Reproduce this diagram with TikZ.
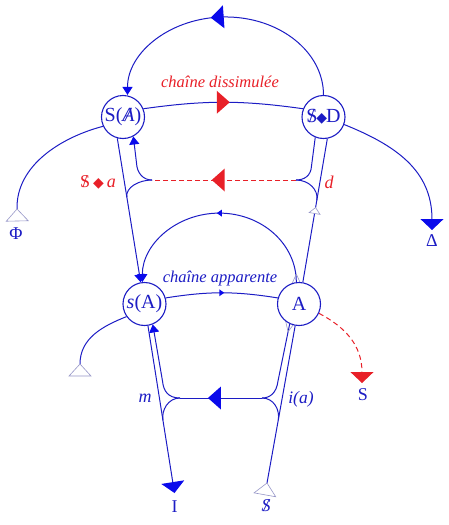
\documentclass[tikz,border=0pt]{standalone}
\usepackage{fontspec}
\setmainfont{Liberation Serif}
\newfontfamily\dejavu{DejaVu Sans}
\usetikzlibrary{arrows.meta,decorations.markings,calc}
\definecolor{lb}{RGB}{28,28,196}
\definecolor{tb}{RGB}{10,10,235}
\definecolor{rd}{RGB}{232,32,40}
\definecolor{gr}{RGB}{150,150,200}
\pgfdeclarelayer{bg}
\pgfsetlayers{bg,main}
\newcommand\barS{\ooalign{S\cr\hidewidth/\hidewidth}}
\newcommand\barA{\ooalign{\textit{A}\cr\hidewidth\textit{/}\hidewidth}}
\newcommand\dia{{\dejavu\fontsize{14}{14}\selectfont ◆}}
\begin{document}
\begin{tikzpicture}[x=1pt,y=-1pt,
  ln/.style={draw=lb, line width=1pt},
  circ/.style={circle, draw=lb, fill=white, line width=1.1pt, minimum size=43pt, inner sep=0pt, text=lb, font=\fontsize{20}{22}\selectfont},
  lab/.style={text=lb, font=\fontsize{18}{20}\selectfont, inner sep=0pt},
  ital/.style={font=\fontsize{16.5}{18}\selectfont\itshape, inner sep=0pt},
  endtri/.style={-{Triangle[width=23pt,length=11pt,color=#1,fill=#1]}},
  smalltip/.style={-{Triangle[width=10pt,length=8pt,color=tb,fill=tb]}},
  bigmark/.style 2 args={postaction={decorate,decoration={markings,mark=at position #1 with {\fill[#2] (6.5pt,0pt) -- (-6.5pt,11.5pt) -- (-6.5pt,-11.5pt) -- cycle;}}}},
  tinymark/.style={postaction={decorate,decoration={markings,mark=at position #1 with {\fill[tb] (2.5pt,0pt) -- (-2.5pt,3.5pt) -- (-2.5pt,-3.5pt) -- cycle;}}}},
  openstart/.style={postaction={decorate,decoration={markings,mark=at position 0 with {\draw[gr,fill=white,line width=0.6pt,solid] (0pt,0pt) -- (-12pt,11pt) -- (-12pt,-11pt) -- cycle;}}}},
  openA/.style={postaction={decorate,decoration={markings,mark=at position 0 with {\draw[gr,line width=0.6pt,solid] (8pt,0pt) -- (-3pt,5pt) -- (-3pt,-5pt) -- cycle;}}}},
  openmid/.style={postaction={decorate,decoration={markings,mark=at position #1 with {\draw[gr,fill=white,line width=0.6pt,solid] (3pt,0pt) -- (-3pt,5.5pt) -- (-3pt,-5.5pt) -- cycle;}}}},
]
\useasboundingbox (0,0) rectangle (449,525);

% circles
\node[circ] (SA) at (123,117) {S(\barA)};
\node[circ] (SD) at (323.5,117) {\barS\kern-0.05em\dia\kern-0.05em D};
\node[circ] (sA) at (144.5,304) {\textit{s}(A)};
\node[circ] (A) at (299,304) {A};

% end points and junctions
\coordinate (phit) at (17,209);
\coordinate (deltat) at (432,230);
\coordinate (redt) at (362,383);
\coordinate (sAt) at (80,364);
\coordinate (It) at (174.5,493);
\coordinate (St) at (267,483);
\coordinate (jTR) at (296,180);
\coordinate (jTL) at (152,180);
\coordinate (jBR) at (262,398);
\coordinate (jBL) at (180,398);
\coordinate (mTL) at ($(SA.-105)!0.41!(sA.100)$);
\coordinate (mTR) at ($(A.80)!0.573!(SD.-80)$);
\coordinate (mBL) at ($(sA.-81)!0.565!(It)$);
\coordinate (mBR) at ($(St)!0.4!(A.-100)$);

% labels
\node[lab] (Phi) at (16,234) {Φ};
\node[lab] (Delta) at (432,241) {Δ};
\node[lab] (I) at (174.5,507) {I};
\node[lab] (Sb) at (266,506) {\textit{\barS}};
\node[lab] (Sr) at (363,395) {S};
\node[ital, text=rd] (cd) at (220,82) {chaîne dissimulée};
\node[ital, text=lb] (ca) at (220,279) {chaîne apparente};
\node[inner sep=0pt, text=rd, font=\fontsize{18}{20}\selectfont] (sa) at (98,182) {\barS\,\dia\,\textit{a}};
\node[ital, text=rd, font=\fontsize{18}{20}\selectfont\itshape] (d) at (329,182) {d};
\node[ital, text=lb, font=\fontsize{18}{20}\selectfont\itshape] (m) at (145,398) {m};
\node[ital, text=lb, font=\fontsize{17.5}{20}\selectfont\itshape] (ia) at (301,399) {i(a)};

\begin{pgfonlayer}{bg}
% top arc
\draw[ln, smalltip, bigmark={0.53}{tb}] (SD.north) arc[start angle=0,end angle=180,x radius=98pt,y radius=78pt];
% chaine dissimulee
\draw[ln, bigmark={0.5}{rd}] (SA.22) to[bend left=8] (SD.158);
% Phi
\draw[ln, openstart] (phit) .. controls (16,165) and (62,137) .. (SA.205);
% Delta
\draw[ln, endtri=tb] (SD.-20) .. controls (395,145) and (432,170) .. (deltat);
% red S
\draw[ln, draw=rd, dash pattern=on 5pt off 3.5pt, endtri=rd] (A.-25) .. controls (345,327) and (362,345) .. (redt);
% s(A) left
\draw[ln, openstart] (sAt) .. controls (80,338) and (103,326) .. (sA.215);
% I
\draw[ln, endtri=tb] (sA.-81) -- (It);
% barred S
\draw[ln, openstart] (St) -- (A.-100);
% S(A) -> s(A)
\draw[ln, smalltip] (SA.-105) -- (sA.100);
% A arc -> s(A)
\draw[ln, smalltip, openA, tinymark=0.5] (A.97) arc[start angle=0,end angle=180,x radius=77pt,y radius=69pt];
% chaine apparente
\draw[ln, tinymark=0.5] (sA.16) to[bend left=9] (A.164);
% A -> SD
\draw[ln, openmid=0.5] (A.80) -- (SD.-80);
% upper loop
\draw[ln] (SD.-112) -- (311.5,166) .. controls (311,176) and (304,180) .. (jTR);
\draw[draw=rd, line width=1pt, dash pattern=on 5pt off 3pt, bigmark={0.54}{rd}] (jTR) -- (jTL);
\draw[ln, smalltip] (jTL) .. controls (143,180) and (137,173) .. (136.5,163) -- (SA.-62);
\draw[ln] (jTL) .. controls +(-13,0) and +(-1.6,-10) .. (mTL);
\draw[ln] (jTR) .. controls +(13,0) and +(1.7,-10) .. (mTR);
% lower loop
\draw[ln, openA] (A.-115) -- (278,381) .. controls (276.5,393) and (270,398) .. (jBR);
\draw[ln, bigmark={0.58}{tb}] (jBR) -- (jBL);
\draw[ln, smalltip] (jBL) .. controls (168,398) and (163.5,391) .. (162.5,381) -- (sA.-68);
\draw[ln] (jBL) .. controls +(-12,0) and +(-1.6,-10) .. (mBL);
\draw[ln] (jBR) .. controls +(12,0) and +(1.8,-10) .. (mBR);
\end{pgfonlayer}
\end{tikzpicture}
\end{document}
